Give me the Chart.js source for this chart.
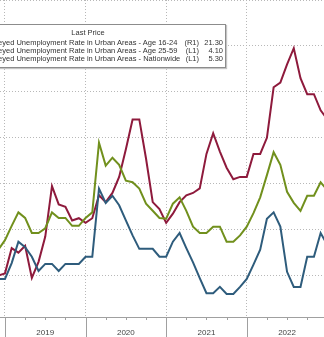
<!DOCTYPE html>
<html>
<head>
<meta charset="utf-8">
<script src="https://cdn.jsdelivr.net/npm/chart.js@4.4.1/dist/chart.umd.min.js"></script>
<style>
html, body { margin: 0; padding: 0; background: #fff; overflow: hidden; }
#wrap { position: relative; width: 324px; height: 337px; overflow: hidden; }
#legend {
  position: absolute; left: -50px; top: 24px; width: 274px; height: 42px;
  background: #fff; border: 1px solid #8c8c8c; box-shadow: 1px 1px 1px #c4c4c4;
  font-family: "Liberation Sans", Arial, sans-serif; font-size: 7.5px; color: #333;
}
#legend div { position: absolute; line-height: 8px; white-space: nowrap; }
#legend .head { left: 0; right: 0; top: 4px; text-align: center; }
#legend .lbl { left: 10px; }
#legend .tag { right: 26px; text-align: right; }
#legend .val { right: 2px; text-align: right; }
</style>
</head>
<body>
<div id="wrap">
  <canvas id="chart" width="324" height="337"></canvas>
  <div id="legend"></div>
</div>
<script>
// monthly readings, plotted at month end
const months = [
  '2018-11','2018-12',
  '2019-01','2019-02','2019-03','2019-04','2019-05','2019-06','2019-07','2019-08','2019-09','2019-10','2019-11','2019-12',
  '2020-01','2020-02','2020-03','2020-04','2020-05','2020-06','2020-07','2020-08','2020-09','2020-10','2020-11','2020-12',
  '2021-01','2021-02','2021-03','2021-04','2021-05','2021-06','2021-07','2021-08','2021-09','2021-10','2021-11','2021-12',
  '2022-01','2022-02','2022-03','2022-04','2022-05','2022-06','2022-07','2022-08','2022-09','2022-10','2022-11','2022-12'
]

// Age 16-24 (R1)
const youth = [
  10.0, 10.1,
  11.2, 11.0, 11.3, 9.9, 10.6, 11.7, 13.9, 13.1, 13.0, 12.4, 12.5, 12.3,
  12.5, 13.5, 13.2, 13.6, 14.3, 15.5, 16.8, 16.8, 15.1, 13.2, 12.9, 12.3,
  12.7, 13.2, 13.5, 13.6, 13.8, 15.3, 16.2, 15.4, 14.7, 14.2, 14.3, 14.3,
  15.3, 15.3, 16.0, 18.2, 18.4, 19.2, 19.9, 18.6, 17.9, 17.9, 17.2, 16.8
]
// Age 25-59 (L1)
const prime = [
  4.48, 4.48,
  4.68, 4.95, 4.88, 4.76, 4.58, 4.67, 4.67, 4.58, 4.67, 4.67, 4.67, 4.76,
  4.76, 5.62, 5.44, 5.53, 5.41, 5.22, 5.03, 4.86, 4.86, 4.86, 4.76, 4.76,
  4.95, 5.06, 4.87, 4.69, 4.49, 4.30, 4.30, 4.38, 4.29, 4.29, 4.38, 4.48,
  4.66, 4.85, 5.24, 5.32, 5.14, 4.57, 4.38, 4.38, 4.76, 4.76, 5.06, 4.91
]
// Nationwide (L1)
const nationwide = [
  4.85, 4.97,
  5.15, 5.32, 5.25, 5.06, 5.06, 5.12, 5.32, 5.25, 5.25, 5.15, 5.15, 5.25,
  5.32, 6.20, 5.91, 6.01, 5.92, 5.72, 5.70, 5.62, 5.43, 5.34, 5.25, 5.24,
  5.43, 5.51, 5.34, 5.14, 5.06, 5.06, 5.14, 5.14, 4.95, 4.95, 5.03, 5.14,
  5.31, 5.51, 5.79, 6.08, 5.92, 5.58, 5.44, 5.34, 5.53, 5.53, 5.70, 5.60
]

const years = ['2019', '2020', '2021', '2022']
const rightTicks = [10, 12, 14, 16, 18, 20, 22]

const legendNames = [
  'China Surveyed Unemployment Rate in Urban Areas - Age 16-24',
  'China Surveyed Unemployment Rate in Urban Areas - Age 25-59',
  'China Surveyed Unemployment Rate in Urban Areas - Nationwide'
]
const legendAxis = ['(R1)', '(L1)', '(L1)']
const lastPrice = ['21.30', '4.10', '5.30']

// x = months since start of 2019, month-end position
const monthPos = m => (parseInt(m.slice(0, 4)) - 2019) * 12 + parseInt(m.slice(5, 7))
const toPoints = arr => arr.map((v, i) => ({ x: monthPos(months[i]), y: v }))

const quarterTicks = []
for (let q = 0; q <= 48; q += 3) quarterTicks.push(q)

// legend box
const lg = document.getElementById('legend')
let html = '<div class="head">Last Price</div>'
legendNames.forEach((n, i) => {
  const top = 14 + i * 8
  html += `<div class="lbl" style="top:${top}px">${n}</div>`
  html += `<div class="tag" style="top:${top}px">${legendAxis[i]}</div>`
  html += `<div class="val" style="top:${top}px">${lastPrice[i]}</div>`
})
lg.innerHTML = html

const axisMarks = {
  id: 'axisMarks',
  afterDraw(chart) {
    const { ctx, chartArea, scales } = chart
    const x = scales.x
    ctx.save()
    ctx.strokeStyle = '#a0a0a0'
    ctx.lineWidth = 1
    quarterTicks.forEach(v => {
      const px = Math.round(x.getPixelForValue(v)) + 0.5
      const len = v % 12 === 0 ? 20 : 3
      ctx.beginPath()
      ctx.moveTo(px, chartArea.bottom)
      ctx.lineTo(px, chartArea.bottom + len)
      ctx.stroke()
    })
    ctx.restore()
  }
}

const ctx = document.getElementById('chart')

const myChart = new Chart(ctx, {
  type: 'line',
  data: {
    datasets: [
      { label: legendNames[2], data: toPoints(nationwide), yAxisID: 'y', borderColor: '#71901d', borderWidth: 2, pointRadius: 0, tension: 0 },
      { label: legendNames[1], data: toPoints(prime), yAxisID: 'y', borderColor: '#2e5c7c', borderWidth: 2, pointRadius: 0, tension: 0 },
      { label: legendNames[0], data: toPoints(youth), yAxisID: 'y1', borderColor: '#8e1a3c', borderWidth: 2, pointRadius: 0, tension: 0 }
    ]
  },
  options: {
    responsive: false,
    animation: false,
    layout: { padding: 0 },
    plugins: { legend: { display: false }, tooltip: { enabled: false } },
    scales: {
      x: {
        type: 'linear', min: -0.74, max: 47.5,
        afterBuildTicks: s => { s.ticks = quarterTicks.filter(v => v < 48).map(v => ({ value: v })) },
        afterFit: s => { s.height = 20; s.paddingLeft = 0; s.paddingRight = 0 },
        ticks: {
          autoSkip: false, maxRotation: 0, padding: 11, color: '#444',
          font: { size: 8, family: 'Liberation Sans' },
          callback: v => (v % 12 === 6 ? years[(v - 6) / 12] : '')
        },
        grid: {
          drawTicks: false,
          color: c => (c.tick && c.tick.value % 12 === 0 ? '#b8b8b8' : 'rgba(0,0,0,0)')
        },
        border: { display: true, color: '#a0a0a0', dash: [1, 2] }
      },
      y: { display: false, min: 4, max: 8 },
      y1: {
        position: 'right', min: 8.2, max: 22,
        afterBuildTicks: s => { s.ticks = rightTicks.map(v => ({ value: v })) },
        afterFit: s => { s.width = 0 },
        ticks: { display: false },
        grid: { drawTicks: false, color: '#b8b8b8' },
        border: { display: false, dash: [1, 2] }
      }
    }
  },
  plugins: [axisMarks]
})
</script>
</body>
</html>
